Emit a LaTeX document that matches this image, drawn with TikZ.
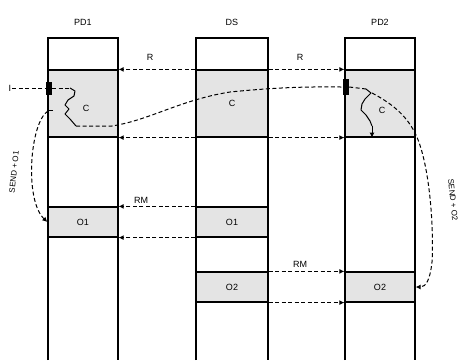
\documentclass[tikz,border=0pt]{standalone}
\usepackage{fontspec}
\setmainfont{Liberation Sans}
\usetikzlibrary{arrows.meta}
\definecolor{regiongray}{HTML}{E4E4E4}
\begin{document}
\begin{tikzpicture}[x=1pt,y=-1pt,
  col/.style={line width=1.2pt},
  region/.style={draw, line width=1.2pt, fill=regiongray, inner sep=0pt, minimum width=70pt, font=\fontsize{9}{10}\selectfont},
  dsh/.style={dash pattern=on 4pt off 2.5pt, line width=1pt},
  tipped/.style={-{Latex[length=5pt,width=5pt]}},
  lbl/.style={font=\fontsize{9}{10}\selectfont, inner sep=1pt},
  slbl/.style={font=\fontsize{8}{9}\selectfont, inner sep=0.5pt},
  blk/.style={fill=black, inner sep=0pt, minimum width=6pt},
  wig/.style={line width=1pt, line join=round}]
\useasboundingbox (0,0) rectangle (464,360);
% column headers
\node[lbl] (h1) at (83,22) {PD1};
\node[lbl] (h2) at (232,22) {DS};
\node[lbl] (h3) at (380,22) {PD2};
% gray regions and boxes
\node[region, minimum height=67pt] (g1) at (83,103.5) {};
\node[region, minimum height=67pt, minimum width=72pt] (g2) at (232,103.5) {C};
\node[region, minimum height=67pt] (g3) at (380,103.5) {};
\node[region, minimum height=30pt] (o1a) at (83,222) {O1};
\node[region, minimum height=30pt, minimum width=72pt] (o1b) at (232,222) {O1};
\node[region, minimum height=30pt, minimum width=72pt] (o2b) at (232,287) {O2};
\node[region, minimum height=30pt] (o2c) at (380,287) {O2};
% column outlines
\draw[col] (48,360) -- (48,38) -- (118,38) -- (118,360);
\draw[col] (196,360) -- (196,38) -- (268,38) -- (268,360);
\draw[col] (345,360) -- (345,38) -- (415,38) -- (415,360);
% R arrows
\draw[dsh,tipped] (g2.north west) -- (g1.north east);
\draw[dsh,tipped] (g2.north east) -- (g3.north west);
\node[lbl] (r1) at (150,57) {R};
\node[lbl] (r2) at (300,57) {R};
\draw[dsh,tipped] (g2.south west) -- (g1.south east);
\draw[dsh,tipped] (g2.south east) -- (g3.south west);
% RM arrows
\draw[dsh,tipped] (o1b.north west) -- (o1a.north east);
\node[lbl,fill=white] (rm1) at (141,200) {RM};
\draw[dsh,tipped] (o1b.south west) -- (o1a.south east);
\draw[dsh,tipped] (o2b.north east) -- (o2c.north west);
\node[lbl,fill=white] (rm2) at (300,264) {RM};
\draw[dsh,tipped] (o2b.south east) -- (o2c.south west);
% I and blocks
\node[blk, minimum height=13pt] (b1) at (49,88) {};
\node[blk, minimum height=16pt] (b3) at (346,87) {};
\node[lbl] (I) at (10,88) {I};
\draw[dsh] (I) -- (b1);
% PD1 C
\coordinate (z1s) at (70,88);
\coordinate (z1e) at (76,126);
\draw[dsh] (b1.east) -- (z1s);
\draw[wig] (z1s) -- (75,91) -- (74,96) -- (68,100) -- (65,105) -- (69,109) -- (65,114) -- (70,119) -- (z1e);
\node[lbl] (c1) at (86,108) {C};
\draw[dsh] (z1e) -- (112,126) .. controls (150,120) and (180,100) .. (230,92) .. controls (290,86) and (320,87) .. (b3.west);
% PD2 C
\coordinate (z3s) at (366,89);
\coordinate (z3e) at (372,126);
\draw[dsh] (b3.east) -- (z3s);
\draw[wig] (z3s) -- (371,93) -- (365,99) -- (362,104) -- (361,110) -- (366,115) -- (370,121) -- (z3e);
\draw[wig,tipped] (z3e) -- (g3.south -| z3e);
\node[lbl] (c3) at (382,110) {C};
% curve to O1 in PD1
\coordinate (l0) at (53,110);
\draw[wig] (l0) -- (48,110);
\draw[dsh,tipped] (48,111) .. controls (30,122) and (24,200) .. (o1a.west);
\node[slbl, rotate=84] (lab1) at (14,172) {SEND + O1};
% curve to O2 in PD2
\draw[dsh,tipped] (372,93) .. controls (395,105) and (408,118) .. (416,135) .. controls (430,165) and (434,230) .. (432,262) .. controls (430,280) and (426,287) .. (o2c.east);
\node[slbl, rotate=-84] (lab2) at (453,200) {SEND + O2};
\end{tikzpicture}
\end{document}
